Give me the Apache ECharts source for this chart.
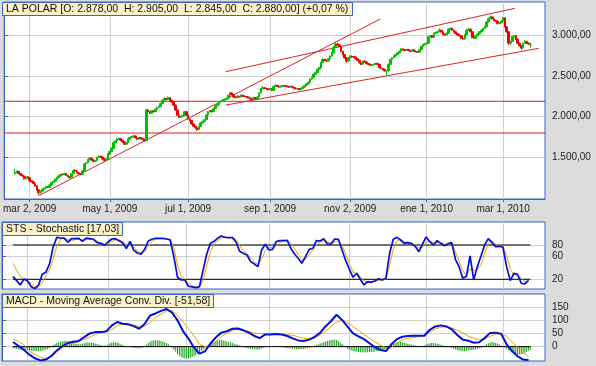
<!DOCTYPE html>
<html><head><meta charset="utf-8">
<script src="https://cdn.jsdelivr.net/npm/echarts@6/dist/echarts.min.js"></script>
<style>html,body{margin:0;padding:0;background:#dcdcdc;}#c{width:596px;height:366px;}</style>
</head><body><div id="c"></div>
<script>
// x axis = trading-day index
const tickDays = [14, 58, 101, 146, 190, 232, 274];
const tickLabels = ['mar 2, 2009', 'may 1, 2009', 'jul 1, 2009', 'sep 1, 2009', 'nov 2, 2009', 'ene 1, 2010', 'mar 1, 2010'];
const firstDay = 6;
// [open, close, low, high], one per trading day from firstDay
const candles = [
[1300,1315,1290,1360],[1315,1328,1305,1340],[1328,1300,1295,1332],[1300,1282,1275,1305],[1282,1270,1262,1290],
[1270,1236,1228,1275],[1236,1262,1230,1270],[1262,1250,1240,1268],[1250,1212,1205,1255],[1212,1200,1192,1220],
[1200,1180,1172,1208],[1180,1150,1142,1185],[1150,1100,1092,1155],[1100,1065,1040,1105],[1065,1085,1058,1092],
[1085,1110,1080,1115],[1110,1122,1102,1130],[1122,1142,1115,1150],[1142,1130,1122,1148],[1130,1160,1125,1165],
[1160,1192,1155,1198],[1192,1205,1185,1212],[1205,1232,1200,1238],[1232,1250,1225,1258],[1250,1272,1245,1280],
[1272,1290,1265,1298],[1290,1288,1278,1300],[1288,1302,1282,1310],[1302,1280,1272,1306],[1280,1262,1255,1285],
[1262,1250,1240,1268],[1250,1300,1245,1305],[1300,1340,1295,1348],[1340,1332,1322,1350],[1332,1310,1302,1338],
[1310,1300,1290,1315],[1300,1290,1282,1306],[1290,1332,1285,1340],[1332,1420,1328,1428],[1420,1432,1410,1442],
[1432,1470,1425,1478],[1470,1490,1462,1500],[1490,1468,1458,1495],[1468,1450,1440,1472],[1450,1462,1442,1470],
[1462,1500,1455,1508],[1500,1512,1492,1522],[1512,1505,1495,1520],[1505,1480,1470,1510],[1480,1460,1450,1485],
[1460,1482,1452,1490],[1482,1540,1478,1548],[1540,1572,1532,1580],[1572,1610,1565,1620],[1610,1680,1605,1690],
[1680,1702,1672,1712],[1702,1722,1695,1735],[1722,1730,1712,1742],[1730,1710,1700,1738],[1710,1690,1680,1715],
[1690,1660,1650,1695],[1660,1682,1655,1690],[1682,1720,1675,1728],[1720,1742,1712,1750],[1742,1752,1735,1762],
[1752,1762,1745,1775],[1762,1740,1730,1768],[1740,1722,1712,1745],[1722,1742,1716,1750],[1742,1730,1720,1748],
[1730,1720,1710,1736],[1720,1702,1695,1726],[1702,2080,1700,2090],[2080,2060,2050,2095],[2060,2042,2030,2068],
[2042,2070,2036,2078],[2070,2060,2050,2076],[2060,2090,2055,2098],[2090,2112,2085,2120],[2112,2122,2105,2132],
[2122,2160,2116,2168],[2160,2200,2155,2210],[2200,2222,2192,2235],[2222,2210,2200,2230],[2210,2232,2205,2245],
[2232,2200,2190,2238],[2200,2180,2170,2206],[2180,2140,2130,2185],[2140,2080,2070,2146],[2080,2020,2010,2086],
[2020,1990,1980,2026],[1990,2000,1982,2008],[2000,2012,1992,2020],[2012,2060,2008,2068],[2060,2020,2010,2066],
[2020,1970,1962,2026],[1970,1950,1940,1976],[1950,1910,1900,1956],[1910,1882,1872,1916],[1882,1860,1850,1888],
[1860,1840,1825,1866],[1840,1880,1835,1886],[1880,1922,1875,1930],[1922,1940,1915,1948],[1940,1962,1932,1970],
[1962,2020,1958,2028],[2020,2060,2015,2068],[2060,2072,2052,2082],[2072,2060,2050,2078],[2060,2100,2055,2108],
[2100,2132,2095,2140],[2132,2150,2125,2158],[2150,2180,2145,2188],[2180,2190,2172,2198],[2190,2200,2182,2210],
[2200,2212,2192,2220],[2212,2222,2205,2232],[2222,2260,2216,2268],[2260,2290,2255,2300],[2290,2270,2262,2296],
[2270,2240,2232,2276],[2240,2232,2222,2246],[2232,2250,2226,2258],[2250,2240,2232,2256],[2240,2262,2236,2270],
[2262,2250,2242,2268],[2250,2245,2236,2256],[2245,2240,2232,2252],[2240,2230,2222,2246],[2230,2220,2212,2236],
[2220,2210,2200,2226],[2210,2232,2205,2240],[2232,2220,2212,2238],[2220,2240,2215,2248],[2240,2290,2236,2298],
[2290,2340,2285,2350],[2340,2352,2332,2372],[2352,2345,2336,2360],[2345,2340,2330,2352],[2340,2330,2320,2346],
[2330,2342,2325,2350],[2342,2320,2312,2348],[2320,2370,2316,2378],[2370,2382,2362,2392],[2382,2370,2362,2388],
[2370,2360,2352,2376],[2360,2372,2355,2380],[2372,2380,2366,2388],[2380,2375,2366,2386],[2375,2370,2362,2382],
[2370,2360,2352,2376],[2360,2372,2355,2380],[2372,2360,2352,2378],[2360,2350,2342,2366],[2350,2340,2332,2356],
[2340,2342,2334,2350],[2342,2330,2322,2348],[2330,2342,2325,2350],[2342,2360,2336,2368],[2360,2380,2355,2388],
[2380,2402,2375,2410],[2402,2420,2396,2428],[2420,2460,2415,2468],[2460,2480,2452,2490],[2480,2520,2475,2528],
[2520,2540,2512,2550],[2540,2580,2535,2590],[2580,2600,2572,2610],[2600,2660,2595,2670],[2660,2700,2655,2712],
[2700,2690,2680,2710],[2690,2680,2670,2698],[2680,2710,2675,2718],[2710,2740,2705,2750],[2740,2780,2735,2790],
[2780,2850,2775,2860],[2850,2890,2845,2920],[2890,2880,2870,2905],[2880,2860,2850,2890],[2860,2800,2790,2866],
[2800,2760,2750,2806],[2760,2720,2710,2766],[2720,2680,2660,2726],[2680,2720,2675,2728],[2720,2740,2715,2750],
[2740,2735,2725,2748],[2735,2730,2720,2742],[2730,2710,2700,2736],[2710,2690,2680,2716],[2690,2660,2650,2696],
[2660,2640,2630,2666],[2640,2680,2635,2688],[2680,2670,2660,2686],[2670,2650,2640,2676],[2650,2640,2632,2656],
[2640,2630,2620,2646],[2630,2635,2624,2644],[2635,2640,2628,2648],[2640,2652,2634,2660],[2652,2640,2630,2658],
[2640,2600,2592,2646],[2600,2590,2580,2606],[2590,2580,2570,2596],[2580,2560,2550,2586],[2560,2562,2510,2570],
[2562,2640,2556,2648],[2640,2700,2635,2708],[2700,2722,2695,2730],[2722,2740,2716,2750],[2740,2760,2735,2768],
[2760,2782,2755,2790],[2782,2800,2776,2810],[2800,2830,2795,2840],[2830,2820,2810,2836],[2820,2810,2800,2826],
[2810,2822,2805,2830],[2822,2810,2800,2828],[2810,2800,2790,2816],[2800,2820,2795,2828],[2820,2800,2790,2826],
[2800,2795,2786,2806],[2795,2790,2780,2800],[2790,2820,2786,2828],[2820,2860,2815,2868],[2860,2880,2855,2888],
[2880,2892,2874,2900],[2892,2900,2885,2910],[2900,2980,2896,2990],[2980,2992,2972,3000],[2992,2970,2960,2998],
[2970,3020,2965,3028],[3020,3030,3012,3040],[3030,3040,3022,3050],[3040,3060,3035,3080],[3060,3040,3030,3066],
[3040,3010,3000,3046],[3010,3000,2990,3016],[3000,3022,2995,3030],[3022,3070,3016,3080],[3070,3082,3062,3092],
[3082,3060,3050,3088],[3060,3040,3030,3066],[3040,3020,3010,3046],[3020,3000,2990,3026],[3000,2990,2980,3006],
[2990,2960,2950,2996],[2960,2950,2940,2966],[2950,3002,2945,3010],[3002,3060,2996,3070],[3060,3072,3052,3082],
[3072,3040,3030,3078],[3040,2970,2960,3046],[2970,2960,2950,2976],[2960,2990,2955,2998],[2990,3012,2985,3020],
[3012,3040,3006,3048],[3040,3060,3035,3070],[3060,3080,3055,3090],[3080,3100,3075,3110],[3100,3160,3095,3170],
[3160,3200,3155,3212],[3200,3222,3195,3240],[3222,3200,3190,3228],[3200,3180,3170,3206],[3180,3170,3160,3186],
[3170,3140,3130,3176],[3140,3150,3132,3158],[3150,3172,3145,3180],[3172,3210,3166,3222],[3210,3100,3092,3216],
[3100,3040,3030,3106],[3040,2900,2880,3046],[2900,2922,2880,2930],[2922,2980,2916,2990],[2980,2992,2972,3000],
[2992,2950,2940,2998],[2950,2900,2890,2956],[2900,2870,2860,2906],[2870,2840,2820,2876],[2840,2900,2835,2908],
[2900,2922,2895,2940],[2922,2900,2890,2928],[2900,2890,2880,2906],[2878,2880,2845,2905]
];
const priceTicks = [1500, 2000, 2500, 3000];
const levelLines = [2187, 1798];
// trend lines: [[day, price], [day, price]]
const trendSteep = [[19, 1030], [206.5, 3196]];
const trendUpper = [[121.7, 2550], [280.4, 3327]];
const trendLower = [[121.8, 2141], [293.5, 2837]];

// Stochastic, one value every 2 trading days from firstDay
const stochStep = 2;
const stochK = [24.7,17.6,10,20.6,17,7,3.7,10,28.7,32.2,46.8,77,93.4,92.2,92,84.7,91,91,91.7,86.4,
92,91,90,84,83,79.4,85.2,90.5,91,87.6,84,73.6,86.4,71.3,66,63.7,72.4,87,90,91.7,
91.7,91.7,90.5,88.7,59.6,23.5,18.8,18.8,7.8,6.6,5.4,7.2,36.3,64.3,82.9,86.4,92.2,95.7,93.4,92.8,
92.8,85.2,68.9,65.4,62.5,50.9,46.8,42.1,71.3,81.2,71.3,72.4,85.8,87.6,87.6,88,74,64.3,56.7,48,
59.6,72.4,74.2,87.6,87,91,81.7,81.7,90.5,90,71.3,52.6,37.5,23.5,30.5,20,10.1,15.9,14.7,17.6,
21,18.8,21.7,65.4,90,93.4,88.7,82.9,84,82.3,77.7,68.3,81.7,94,85.8,80,87.6,82.9,78.8,82.3,
84,55,42.1,21.7,24.7,60.8,18.8,42.1,60.8,80.6,91,84,77.1,77.7,76,42.1,17.6,30.5,28.7,13,11.8,18.2];
const stochD = [48,36,25,20,17,13,7,6,15,26,36,55,78,90,92,89,88,89,91,89,
89,90,90,87,84,81,82,86,89,89,86,80,80,77,70,66,68,78,86,90,
91,91,91,90,76,45,25,20,14,9,6,6,18,44,68,82,88,92,94,93,
93,90,79,70,65,57,50,46,55,70,76,75,78,84,87,88,83,73,64,55,
55,63,71,80,85,88,86,83,85,88,80,64,47,33,30,25,17,15,15,16,
18,19,20,45,72,87,90,86,84,83,80,75,76,85,87,84,84,84,81,81,
83,68,52,35,27,38,35,37,45,65,82,87,82,78,77,62,38,28,27,22,15,16];
const stochTicks = [20, 60, 80];
const stochLevels = [80, 20];

// MACD, one value every 3 trading days from firstDay
const macdStep = 3;
const macdLine = [18,3,-13,-31,-45,-53,-50,-36,-15,1,14,19,22,37,51,56,56,59,81,95,
88,86,79,69,87,120,128,138,145,131,101,60,31,-4,-27,-18,12,36,54,59,
69,70,63,54,41,33,47,47,49,47,41,32,24,22,27,38,53,79,99,123,
103,77,51,40,29,13,-3,-13,-17,9,29,38,41,42,42,42,65,78,82,78,
67,45,27,23,15,17,33,53,54,50,9,-17,-37,-50,-52];
const macdSignal = [29,19,8,-17,-30,-41,-46,-37,-18,0,8,14,19,28,37,47,53,57,65,80,
88,88,84,77,78,93,113,125,138,139,120,95,70,40,10,0,5,20,39,52,
63,67,64,58,52,50,50,49,49,48,46,44,38,32,30,33,45,60,78,95,
102,92,77,62,47,32,18,6,-6,-4,14,26,32,35,39,42,55,68,75,77,
72,63,53,40,32,27,30,40,48,50,40,18,-3,-23,-38];
// histogram, one bar per trading day from firstDay
const macdHist = [-5,-7,-8,-10,-11,-12,-13,-13,
-14,-15,-16,-16,-17,-17,-17,-16,-15,-14,-12,-10,-5,0,
6,10,14,17,19,21,22,22,21,19,17,14,12,10,9,9,
11,13,15,16,16,15,14,12,10,8,6,4,3,4,8,12,15,17,17,16,13,9,
5,2,0,-1,-2,-3,-4,-5,-6,-6,-5,-3,
2,8,14,19,23,25,26,25,24,22,20,17,13,9,3,-4,-12,
-20,-28,-35,-40,-44,-46,-46,-45,-43,-40,-37,-33,-28,-23,-18,-12,-6,0,5,
10,14,18,21,24,26,26,25,23,20,18,16,14,11,9,7,4,
1,-2,-4,-6,-7,-8,-9,-10,-11,-11,-10,
-7,-4,-2,-1,-1,-1,-1,-1,-1,-1,-2,-2,-3,-4,-5,-6,-7,-8,-8,-9,-9,-9,
-9,-8,-7,-5,-4,-2,0,3,6,9,12,15,18,20,22,24,26,27,27,26,22,16,10,
4,-2,-8,-12,-15,-17,-19,-20,-21,-22,-22,-23,-23,-22,-22,-21,-20,-19,-18,-17,-15,-13,-11,-9,-6,-2,
4,10,14,17,18,18,17,15,13,11,9,7,5,4,3,2,
1,2,4,8,11,13,14,14,13,11,9,7,5,3,1,
-1,-3,-5,-8,-11,-13,-15,-16,-17,-17,-16,-15,-14,-13,-12,-11,-9,-7,-4,
0,4,9,13,16,18,17,15,12,8,4,1,
-3,-8,-14,-19,-24,-27,-29,-30,-30,-29,-27,-24,-20,-16,-12];
const macdTicks = [0, 50, 100, 150];

const titleMain = 'LA POLAR [O: 2.878,00  H: 2.905,00  L: 2.845,00  C: 2.880,00] (+0,07 %)';
const titleSto = 'STS - Stochastic [17,03]';
const titleMacd = 'MACD - Moving Average Conv. Div. [-51,58]';

const lastDay = firstDay + candles.length - 1;
const BLUE = '#3a64c8', GRIDC = '#d0d0d0', FONT = 'Liberation Sans';
function fmtPrice(v) {
  const s = Math.round(v).toString().replace(/\B(?=(\d{3})+(?!\d))/g, '.');
  return s + ',00';
}
const candleData = candles.map((c, k) => [firstDay + k, c[0], c[1], c[2], c[3]]);
const kData = stochK.map((v, k) => [firstDay + k * stochStep, v]);
const dData = stochD.map((v, k) => [firstDay + k * stochStep, v]);
const mData = macdLine.map((v, k) => [firstDay + k * macdStep, v]);
const sData = macdSignal.map((v, k) => [firstDay + k * macdStep, v]);
const hData = macdHist.map((v, k) => [firstDay + k, v]);

function xAx(g, main) {
  return {
    gridIndex: g, type: 'value', min: 0, max: 297,
    axisLine: { show: main, lineStyle: { color: BLUE, width: 1 } },
    axisTick: { show: main, customValues: tickDays, length: 3, lineStyle: { color: BLUE } },
    axisLabel: { show: main, customValues: tickDays, margin: 5, fontSize: 10, color: '#222', fontFamily: FONT,
      formatter: v => tickLabels[tickDays.indexOf(v)] || '' },
    splitLine: { show: true, lineStyle: { color: GRIDC, width: 1 } }
  };
}
function yAx(g, min, max, ticks, fmt) {
  return {
    gridIndex: g, type: 'value', position: 'right', min: min, max: max, scale: true,
    axisLine: { show: true, lineStyle: { color: BLUE } },
    axisTick: { show: true, customValues: ticks, length: 4, lineStyle: { color: BLUE } },
    axisLabel: { customValues: ticks, margin: 7, fontSize: 10, color: '#222', fontFamily: FONT, formatter: fmt },
    splitLine: { show: true, lineStyle: { color: GRIDC, width: 1 } }
  };
}
function seg(points, xi, yi, color, w, z) {
  return { type: 'line', xAxisIndex: xi, yAxisIndex: yi, data: points, symbol: 'none', silent: true,
    lineStyle: { color: color, width: w }, z: z, animation: false };
}
const boxStyle = { backgroundColor: '#fbf1c8', borderColor: BLUE, borderWidth: 1, padding: [1, 4, 1, 4],
  textStyle: { fontSize: 10.5, fontWeight: 'normal', color: '#111', fontFamily: FONT, lineHeight: 12 } };

const chart = echarts.init(document.getElementById('c'), null, { renderer: 'canvas' });
chart.setOption({
  animation: false,
  backgroundColor: '#dcdcdc',
  title: [
    Object.assign({ text: titleMain, left: 2, top: 2 }, boxStyle),
    Object.assign({ text: titleSto, left: 2, top: 222 }, boxStyle),
    Object.assign({ text: titleMacd, left: 2, top: 294 }, boxStyle)
  ],
  grid: [
    { left: 2, top: 2, width: 543, height: 197, show: true, backgroundColor: '#fff', borderColor: BLUE, borderWidth: 1 },
    { left: 2, top: 222, width: 543, height: 67, show: true, backgroundColor: '#fff', borderColor: BLUE, borderWidth: 1 },
    { left: 2, top: 294, width: 543, height: 67, show: true, backgroundColor: '#fff', borderColor: BLUE, borderWidth: 1 }
  ],
  xAxis: [xAx(0, true), xAx(1, false), xAx(2, false)],
  yAxis: [
    yAx(0, 988.5, 3405, priceTicks, fmtPrice),
    yAx(1, 3, 120.2, stochTicks, v => String(v)),
    yAx(2, -55.4, 203, macdTicks, v => String(v))
  ],
  series: [
    seg([[0, levelLines[0]], [297, levelLines[0]]], 0, 0, '#d42020', 1, 2),
    seg([[0, levelLines[1]], [297, levelLines[1]]], 0, 0, '#d42020', 1, 2),
    seg(trendSteep, 0, 0, '#e02020', 1, 2),
    seg(trendUpper, 0, 0, '#e02020', 1, 2),
    seg(trendLower, 0, 0, '#e02020', 1, 2),
    {
      type: 'candlestick', xAxisIndex: 0, yAxisIndex: 0, data: candleData, encode: { x: 0, y: [1, 2, 3, 4] },
      barWidth: 2.2, silent: true, z: 3,
      itemStyle: { color: '#00c000', color0: '#ee0000', borderColor: '#00c000', borderColor0: '#ee0000', borderWidth: 1 }
    },
    seg([[firstDay, stochLevels[0]], [lastDay, stochLevels[0]]], 1, 1, '#000', 1, 2),
    seg([[firstDay, stochLevels[1]], [lastDay, stochLevels[1]]], 1, 1, '#000', 1, 2),
    seg(dData, 1, 1, '#f0a000', 1, 3),
    seg(kData, 1, 1, '#0010dd', 1.7, 4),
    { type: 'bar', xAxisIndex: 2, yAxisIndex: 2, data: hData, barWidth: 1, silent: true, z: 2,
      itemStyle: { color: '#10a010' } },
    seg([[firstDay, 0], [lastDay, 0]], 2, 2, '#000', 1, 3),
    seg(sData, 2, 2, '#f0a000', 1, 4),
    seg(mData, 2, 2, '#0010dd', 2, 5)
  ]
});
</script></body></html>
